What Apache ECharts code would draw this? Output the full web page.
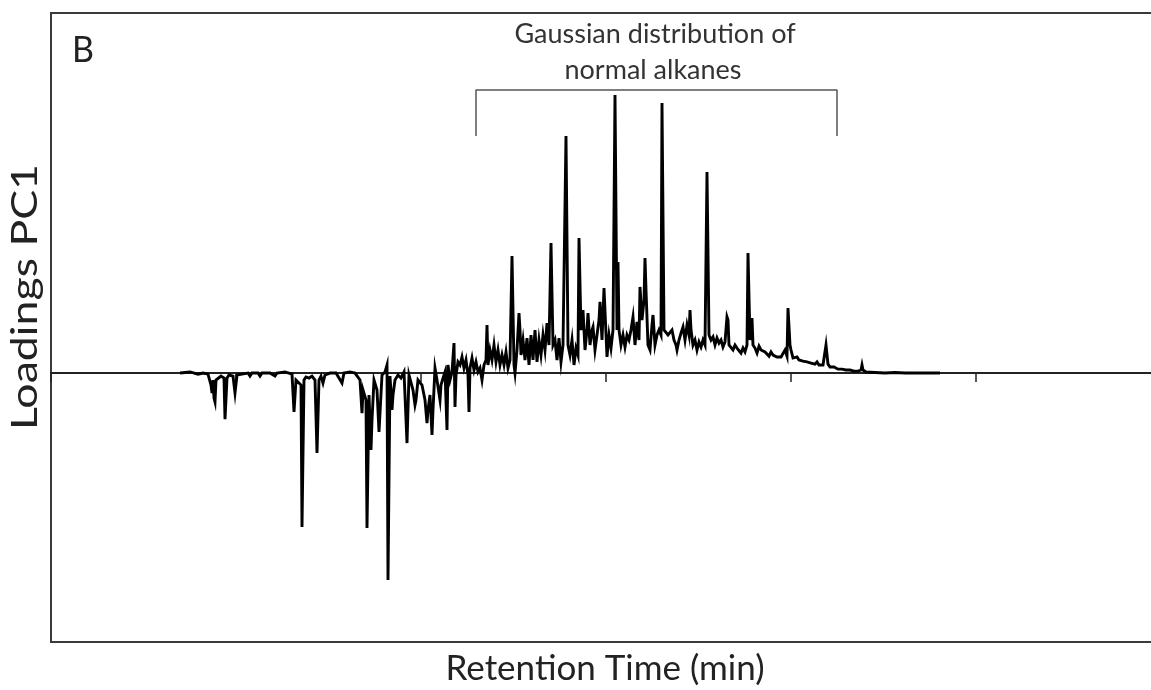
<!DOCTYPE html>
<html><head><meta charset="utf-8">
<script src="https://cdn.jsdelivr.net/npm/echarts@6/dist/echarts.min.js"></script>
<style>html,body{margin:0;padding:0;background:#fff}#c{width:1151px;height:690px}</style>
</head><body><div id="c"></div><script>
// Retention time (min) and PC1 loading (relative units, tallest alkane peak = 100)
const earlyRegion = [[6.45,0],[6.95,0.4],[7.35,-0.4],[7.45,-1.1],[7.6,0],[7.85,-0.4],[8.0,-4.3],[8.05,-7.2],[8.1,-2.5],[8.15,-9.0],[8.2,-10.4],[8.25,-2.5],[8.35,-1.8],[8.5,-1.1],[8.65,-1.8],[8.7,-16.6],[8.75,-16.9],[8.8,-1.8],[8.9,-0.7],[9.1,-1.1],[9.2,-7.2],[9.25,-7.2],[9.3,-0.7],[9.55,-0.4],[9.85,0],[9.95,-1.1],[10.05,0],[10.35,0],[10.45,-1.1],[10.55,0],[10.95,0],[11.2,-1.1],[11.3,0],[11.7,0.4],[12.05,-0.4],[12.15,-14.0],[12.2,-14.0],[12.25,-2.5],[12.35,-1.8],[12.5,-4.3],[12.55,-55.4],[12.6,-55.4],[12.65,-2.5],[12.75,-1.4],[12.9,-1.8],[13.05,-1.1],[13.2,-2.5],[13.3,-28.8],[13.35,-28.8],[13.4,-2.5],[13.5,-1.1],[13.6,-3.6],[13.7,-0.7],[13.95,0],[14.25,0],[14.55,-3.6],[14.65,0],[14.95,0.4],[15.2,0],[15.45,-2.5],[15.55,-14.4],[15.6,-6.1],[15.75,-9.7],[15.8,-55.8],[15.85,-55.8],[15.9,-7.9],[16.0,-27.7],[16.05,-16.9],[16.15,-2.5],[16.3,-6.1],[16.4,-21.2],[16.45,-21.2],[16.55,-0.7],[16.7,0.4],[16.8,2.9],[16.85,-74.5],[16.9,-74.5],[16.95,-1.1],[17.05,-13.3],[17.1,-7.9],[17.2,-2.5],[17.35,-0.7],[17.5,-1.8],[17.65,0.4],[17.75,1.1],[17.8,-25.2],[17.85,-25.2],[17.9,-0.7],[18.0,-1.1],[18.1,-6.1],[18.2,-11.5],[18.25,-9.7],[18.35,-2.5],[18.45,-1.8],[18.55,-4.3],[18.7,-9.7],[18.8,-18.0],[18.85,-13.3],[18.95,-7.9],[19.05,-22.3],[19.1,-13.3],[19.2,1.8],[19.3,-2.5],[19.45,-9.7],[19.5,-4.3],[19.6,-1.8],[19.7,0.4],[19.8,-20.5],[19.85,2.9],[19.95,-2.5],[20.05,0.4],[20.15,10.8],[20.2,-12.2],[20.25,-0.7],[20.35,4.0],[20.45,2.9],[20.55,5.8],[20.65,1.8],[20.75,4.7],[20.85,-0.7],[20.9,-14.0],[20.95,1.8],[21.05,5.4],[21.15,1.1],[21.25,4.0],[21.35,0.4],[21.45,1.8],[21.55,-2.5],[21.65,2.9],[21.75,4.7]];

const alkaneRegion = [[21.8,17.3],[21.85,2.9],[21.95,8.3],[22.05,4.7],[22.15,10.1],[22.25,4.0],[22.35,8.3],[22.45,2.9],[22.55,6.5],[22.65,2.9],[22.75,7.6],[22.85,1.8],[22.95,4.7],[23.05,42.1],[23.1,42.1],[23.15,2.9],[23.2,0],[23.3,8.3],[23.4,21.6],[23.45,15.5],[23.5,6.5],[23.6,11.9],[23.7,4.7],[23.8,12.6],[23.9,2.9],[24.0,13.7],[24.1,4.7],[24.2,15.5],[24.3,4.0],[24.4,11.9],[24.5,6.5],[24.6,13.7],[24.7,8.3],[24.8,18.0],[24.9,10.1],[25.0,46.8],[25.05,46.8],[25.1,10.1],[25.2,11.9],[25.3,4.7],[25.4,12.6],[25.5,4.0],[25.6,10.1],[25.75,85.3],[25.8,85.3],[25.85,10.1],[25.95,6.5],[26.05,11.9],[26.15,2.9],[26.25,9.0],[26.35,6.5],[26.4,48.6],[26.45,48.6],[26.5,15.5],[26.6,22.7],[26.7,8.3],[26.8,15.5],[26.85,21.6],[26.95,10.1],[27.05,15.5],[27.1,16.6],[27.2,8.3],[27.3,13.7],[27.4,19.1],[27.45,25.6],[27.55,11.9],[27.65,30.6],[27.7,29.9],[27.8,5.8],[27.9,13.7],[28.0,9.0],[28.1,15.5],[28.2,100.1],[28.25,100.1],[28.3,15.5],[28.35,40.0],[28.4,15.5],[28.5,10.1],[28.6,13.7],[28.7,9.4],[28.8,13.7],[28.9,11.9],[29.0,15.5],[29.1,20.2],[29.2,10.1],[29.3,18.4],[29.4,11.9],[29.45,31.0],[29.55,19.1],[29.65,26.3],[29.7,41.4],[29.75,29.9],[29.85,10.1],[29.95,8.3],[30.05,17.3],[30.1,20.9],[30.2,10.1],[30.3,13.7],[30.4,15.5],[30.5,13.7],[30.55,97.2],[30.6,97.2],[30.65,15.5],[30.75,15.5],[30.85,13.7],[30.95,13.0],[31.05,15.5],[31.15,11.9],[31.25,10.1],[31.3,8.3],[31.4,11.9],[31.5,14.4],[31.6,16.6],[31.7,11.9],[31.8,17.3],[31.9,13.7],[31.95,22.7],[32.0,15.5],[32.1,10.1],[32.2,11.9],[32.3,8.3],[32.4,11.2],[32.5,9.4],[32.6,11.9],[32.7,10.1],[32.8,72.4],[32.85,72.4],[32.9,13.7],[33.0,11.9],[33.1,13.0],[33.2,10.1],[33.3,12.6],[33.4,10.8],[33.5,11.9],[33.6,9.4],[33.7,11.2],[33.8,20.2],[33.85,19.1],[33.9,10.1],[34.0,10.8],[34.1,8.3],[34.2,10.1],[34.3,9.0],[34.4,9.7],[34.5,7.2],[34.6,9.0],[34.7,7.6],[34.8,10.1],[34.85,43.2],[34.9,43.2],[34.95,11.9],[35.05,19.8],[35.1,10.1],[35.2,9.0],[35.3,7.2],[35.4,9.7],[35.5,8.3],[35.6,9.0],[35.7,7.6],[35.8,8.3],[35.9,6.1],[36.0,7.6],[36.1,6.5],[36.2,7.2],[36.3,5.8],[36.4,6.5],[36.5,5.8],[36.6,6.1],[36.7,8.3],[36.8,6.1],[36.85,23.4],[36.9,23.4],[36.95,10.1],[37.0,8.3],[37.1,5.4],[37.2,5.0],[37.3,5.8],[37.4,4.7],[37.5,5.0],[37.6,4.3],[37.7,4.7],[37.8,4.0],[37.9,4.3],[38.0,3.6],[38.1,4.3],[38.2,3.2],[38.3,4.0],[38.4,2.9],[38.5,3.2],[38.6,2.9],[38.7,3.2],[38.75,10.1],[38.8,10.1],[38.85,3.2]];

const tailRegion = [[38.95,2.2],[39.15,2.2],[39.35,1.4],[39.55,1.4],[39.75,1.1],[39.95,1.1],[40.15,0.7],[40.35,0.7],[40.5,1.1],[40.55,2.9],[40.6,1.1],[40.75,0.4],[41.2,0.2],[41.7,0],[42.2,0.2],[42.7,0],[43.2,0],[43.7,0],[44.45,0]];

// bracket marking the n-alkane range
const bracketRT = [21.25, 21.25, 39.3, 39.3];
const bracketLoading = [85.3, 101.9, 101.9, 85.3];

const annotationLines = ['Gaussian distribution of', 'normal alkanes'];
const panelLabel = 'B';
const xTitle = 'Retention Time (min)';
const yTitle = 'Loadings PC1';

const trace = earlyRegion.concat(alkaneRegion, tailRegion);
const bracket = bracketRT.map((x, i) => [x, bracketLoading[i]]);

const chart = echarts.init(document.getElementById('c'), null, {renderer: 'canvas'});
const font = 'Lato, "Open Sans", sans-serif';
chart.setOption({
  animation: false,
  backgroundColor: '#fff',
  grid: {left: 51, right: -4, top: 13, bottom: 48, outerBoundsMode: 'none', containLabel: false, show: true, borderColor: '#3a3a3a', borderWidth: 2, backgroundColor: 'transparent'},
  xAxis: {
    type: 'value', min: 0, max: 55.2, interval: 9.25,
    axisLine: {onZero: true, lineStyle: {color: '#222', width: 2}},
    axisTick: {show: true, inside: false, length: 9, lineStyle: {color: '#222', width: 1.5}},
    axisLabel: {show: false}, splitLine: {show: false}
  },
  yAxis: {
    type: 'value', min: -96.8, max: 129.6,
    axisLine: {show: false}, axisTick: {show: false}, axisLabel: {show: false}, splitLine: {show: false}
  },
  series: [
    {type: 'line', data: trace, showSymbol: false, symbol: 'none', lineStyle: {color: '#000', width: 2.9, join: 'miter'}, z: 3},
    {type: 'line', data: bracket, showSymbol: false, symbol: 'none', lineStyle: {color: '#555', width: 1.5}, z: 2}
  ],
  graphic: [
    {type: 'text', x: 72, y: 50, scaleY: 1.1, style: {text: panelLabel, font: '34px ' + font, fill: '#222', verticalAlign: 'middle'}},
    {type: 'text', x: 655, y: 34, style: {text: annotationLines[0], font: '27px ' + font, fill: '#333', align: 'center', verticalAlign: 'middle'}},
    {type: 'text', x: 653, y: 70, style: {text: annotationLines[1], font: '27px ' + font, fill: '#333', align: 'center', verticalAlign: 'middle'}},
    {type: 'text', x: 605, y: 669, style: {text: xTitle, font: '35px ' + font, fill: '#222', align: 'center', verticalAlign: 'middle'}},
    {type: 'text', x: 25, y: 297, rotation: Math.PI / 2, scaleX: 1.24, style: {text: yTitle, font: '36px ' + font, fill: '#222', align: 'center', verticalAlign: 'middle'}}
  ]
});
</script></body></html>
